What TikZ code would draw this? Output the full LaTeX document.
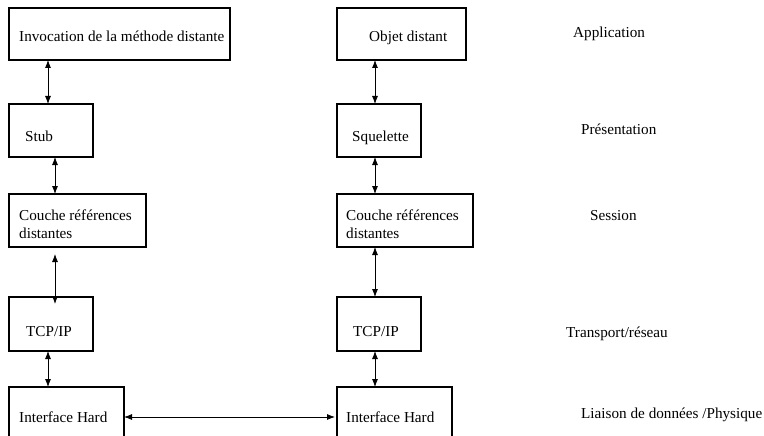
\documentclass[tikz,border=0pt]{standalone}
\usepackage{fontspec}
\setmainfont{Liberation Serif}
\usetikzlibrary{arrows.meta}
\begin{document}
\begin{tikzpicture}[x=1pt,y=-1pt,
  box/.style={draw,line width=1.6pt,inner sep=0pt,outer sep=0pt,anchor=north west},
  txt/.style={anchor=base west,inner sep=0pt,font=\fontsize{15.2}{18}\selectfont,align=left},
  link/.style={line width=0.8pt,{Latex[length=8pt,width=6pt]}-{Latex[length=8pt,width=6pt]}}]
\clip (0,0) rectangle (764,436);
% left column
\node[box,minimum width=221pt,minimum height=52pt] (inv) at (9,8) {};
\node[box,minimum width=84pt,minimum height=53pt] (stub) at (9,104) {};
\node[box,minimum width=137pt,minimum height=53pt] (crL) at (9,194) {};
\node[box,minimum width=84pt,minimum height=54pt] (tcpL) at (9,297) {};
\node[box,minimum width=115pt,minimum height=70pt] (ihL) at (9,387) {};
% right column
\node[box,minimum width=129pt,minimum height=52pt] (obj) at (337,8) {};
\node[box,minimum width=84pt,minimum height=53pt] (sq) at (337,104) {};
\node[box,minimum width=136pt,minimum height=53pt] (crR) at (337,194) {};
\node[box,minimum width=84pt,minimum height=54pt] (tcpR) at (337,297) {};
\node[box,minimum width=115pt,minimum height=70pt] (ihR) at (337,387) {};
% texts in boxes
\node[txt] (tinv) at (19,42) {Invocation de la méthode distante};
\node[txt] (tstub) at (25,142) {Stub};
\node[txt] (tcrL) at (19,238) {Couche références\\distantes};
\node[txt] (ttcpL) at (26,336) {TCP/IP};
\node[txt] (tihL) at (19,422) {Interface Hard};
\node[txt] (tobj) at (369,42) {Objet distant};
\node[txt] (tsq) at (352,142) {Squelette};
\node[txt] (tcrR) at (346,238) {Couche références\\distantes};
\node[txt] (ttcpR) at (353,336) {TCP/IP};
\node[txt] (tihR) at (346,422) {Interface Hard};
% layer labels
\node[txt] (l1) at (573,38) {Application};
\node[txt] (l2) at (581,135) {Présentation};
\node[txt] (l3) at (590,220) {Session};
\node[txt] (l4) at (566,337) {Transport/réseau};
\node[txt] (l5) at (581,418) {Liaison de données /Physique};
% connector columns
\coordinate (ca) at (48,0);
\coordinate (cb) at (55,0);
\coordinate (cr) at (375,0);
\draw[link] (inv.south -| ca) -- (stub.north -| ca);
\draw[link] (stub.south -| cb) -- (crL.north -| cb);
\draw[link] ([yshift=-7pt]crL.south -| cb) -- ([yshift=-7pt]tcpL.north -| cb);
\draw[link] (tcpL.south -| ca) -- (ihL.north -| ca);
\draw[link] (obj.south -| cr) -- (sq.north -| cr);
\draw[link] (sq.south -| cr) -- (crR.north -| cr);
\draw[link] (crR.south -| cr) -- (tcpR.north -| cr);
\draw[link] (tcpR.south -| cr) -- (ihR.north -| cr);
\coordinate (hy) at (0,417);
\draw[link] (ihL.east |- hy) -- ([xshift=-2pt]ihR.west |- hy);
\end{tikzpicture}
\end{document}
